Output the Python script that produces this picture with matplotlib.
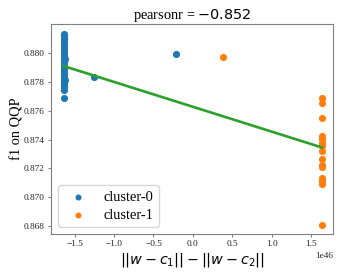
import matplotlib
matplotlib.use("Agg")
import matplotlib.pyplot as plt
import numpy as np

plt.rcParams['font.family'] = ['Liberation Serif', 'DejaVu Serif']
plt.rcParams['mathtext.fontset'] = 'dejavusans'

# cluster-0 (x in units of 1e46)
c0_x = [-1.64] * 23 + [-1.62, -1.62, -1.63, -1.63, -1.25, -0.21]
c0_y = [0.8813, 0.8812, 0.8810, 0.8808, 0.8806, 0.8804, 0.8802, 0.8800,
        0.8798, 0.8797, 0.8795, 0.8793, 0.8791, 0.8789, 0.8787, 0.8785,
        0.8783, 0.8781, 0.8780, 0.8778, 0.8776, 0.8774, 0.8769,
        0.8796, 0.8781, 0.8790, 0.8779, 0.8783, 0.8799]
# cluster-1
c1_x = [1.64] * 15 + [0.38]
c1_y = [0.87686, 0.87655, 0.87552, 0.87426, 0.87403, 0.87375, 0.87352,
        0.87322, 0.87267, 0.87226, 0.87207, 0.87134, 0.87110, 0.87094,
        0.86810, 0.8797]
# regression line endpoints
fit_x = [-1.64, 1.64]
fit_y = [0.87908, 0.87345]
scale = 1e46

fig = plt.figure(figsize=(3.43, 2.74), dpi=100)
ax = fig.add_axes([0.149, 0.146, 0.822, 0.766])

ax.scatter(np.array(c0_x) * scale, c0_y, s=17, color='#1f77b4', label='cluster-0', zorder=3)
ax.scatter(np.array(c1_x) * scale, c1_y, s=17, color='#ff7f0e', label='cluster-1', zorder=3)
ax.plot(np.array(fit_x) * scale, fit_y, color='#2ca02c', lw=1.9, zorder=4)

ax.set_xlim(-1.80e46, 1.78e46)
ax.set_ylim(0.86747, 0.88198)
ax.set_yticks([0.868, 0.870, 0.872, 0.874, 0.876, 0.878, 0.880])
ax.set_xticks([-1.5e46, -1.0e46, -0.5e46, 0, 0.5e46, 1.0e46, 1.5e46])

for sp in ax.spines.values():
    sp.set_color('#808080')
ax.tick_params(colors='#808080', labelcolor='#222222', labelsize=6.7, length=2.5, width=0.8, pad=2)
ax.xaxis.get_offset_text().set_fontsize(6.7)
ax.xaxis.get_offset_text().set_color('#222222')

ax.set_title('pearsonr = $-0.852$', fontsize=10.4, pad=3)
ax.set_ylabel('f1 on QQP', fontsize=10.4, labelpad=0)
ax.set_xlabel(r'$||w-c_1||-||w-c_2||$', fontsize=10.4, labelpad=2)

ax.legend(loc='lower left', fontsize=10.4, handletextpad=0.8, borderpad=0.35,
          labelspacing=0.35, markerscale=0.8)

fig.savefig('out.png', dpi=100)
